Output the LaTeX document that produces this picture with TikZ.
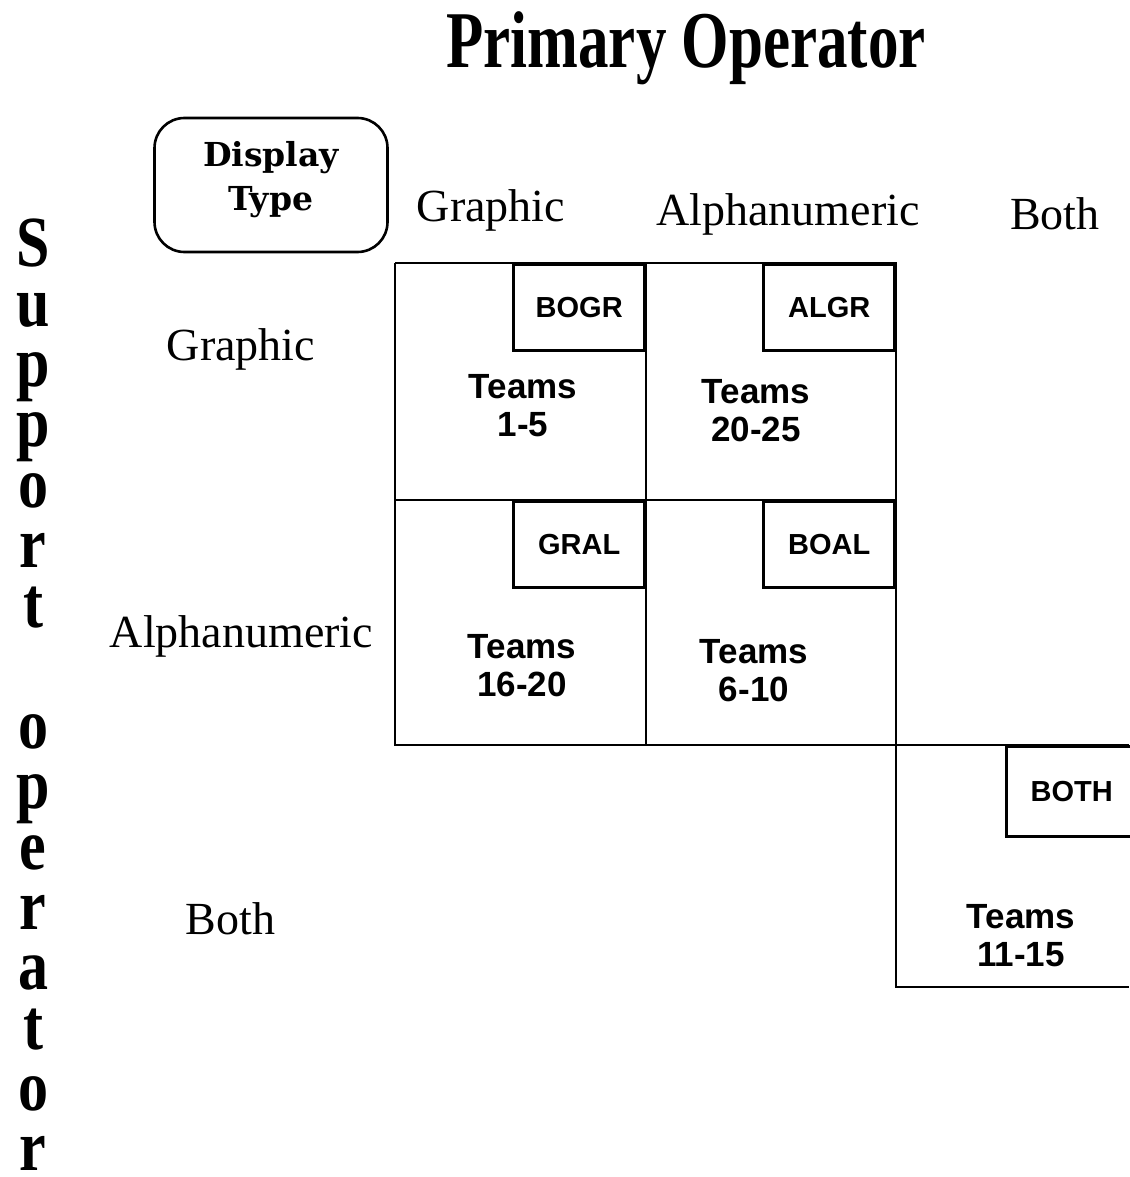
\documentclass[tikz,border=0pt]{standalone}
\usepackage{fontspec}
\usepackage{graphicx}
\setmainfont{Liberation Serif}
\setsansfont{Liberation Sans}
\newfontfamily\slabfont{DejaVu Serif}

\begin{document}
\begin{tikzpicture}[x=1pt, y=-1pt, line width=2.6pt,
    tag/.style={draw, anchor=north east, minimum width=131pt, minimum height=86pt,
        inner sep=0pt, font=\sffamily\bfseries\fontsize{29}{29}\selectfont},
    team/.style={align=center, font=\sffamily\bfseries\fontsize{35}{38}\selectfont},
    lbl/.style={anchor=base, font=\fontsize{46}{46}\selectfont},
    vlet/.style={anchor=base, inner sep=0pt, font=\bfseries\fontsize{60}{60}\selectfont}]
    \useasboundingbox (0,0) rectangle (1129,1177);

    \node[anchor=base, font=\bfseries\fontsize{61}{61}\selectfont] (title) at (686,68)
        {\scalebox{1}[1.32]{Primary Operator}};

    \foreach \ch [count=\i from 0] in {S,u,p,p,o,r,t}
        \node[vlet] (sup\i) at (33,266+60.3*\i) {\scalebox{1}[1.2]{\ch}};
    \foreach \ch [count=\i from 8] in {o,p,e,r,a,t,o,r}
        \node[vlet] (op\i) at (33,266+60.3*\i) {\scalebox{1}[1.2]{\ch}};

    \node[draw, rounded corners=30pt, minimum width=233pt, minimum height=134pt, align=center,
        text depth=18pt, font=\slabfont\bfseries\fontsize{33}{44}\selectfont] (disp)
        at (271,185) {Display\\Type};

    \node[lbl] (colgr) at (491,222) {Graphic};
    \node[lbl] (colal) at (788,225) {Alphanumeric};
    \node[lbl] (colbo) at (1055,229) {Both};
    \node[lbl] (rowgr) at (241,360) {Graphic};
    \node[lbl] (rowal) at (241.5,647) {Alphanumeric};
    \node[lbl] (rowbo) at (230.5,934) {Both};

    \coordinate (A) at (395,263);
    \coordinate (B) at (646,263);
    \coordinate (C) at (896,263);
    \coordinate (D) at (395,500);
    \coordinate (E) at (646,500);
    \coordinate (F) at (896,500);
    \coordinate (G) at (395,745);
    \coordinate (H) at (646,745);
    \coordinate (J) at (1129,745);
    \coordinate (K) at (896,987);
    \coordinate (L) at (1129,987);

    \draw (A) -- (C) -- (K) -- (L);
    \draw (A) -- (G) -- (J);
    \draw (D) -- (F);
    \draw (B) -- (H);

    \node[tag] (bogr) at (B) {BOGR};
    \node[tag] (algr) at (C) {ALGR};
    \node[tag] (gral) at (E) {GRAL};
    \node[tag] (boal) at (F) {BOAL};
    \node[tag, anchor=north west, minimum height=90pt] (both) at (1005,745) {BOTH};

    \node[team] (t1) at (523,406) {Teams\\1-5};
    \node[team] (t2) at (756,411) {Teams\\20-25};
    \node[team] (t3) at (522,666) {Teams\\16-20};
    \node[team] (t4) at (754,671) {Teams\\6-10};
    \node[team] (t5) at (1021,936) {Teams\\11-15};
\end{tikzpicture}
\end{document}
